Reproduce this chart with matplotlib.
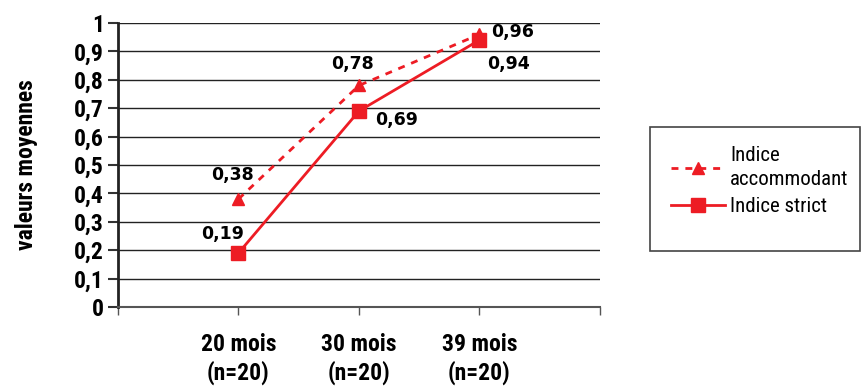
import matplotlib.pyplot as plt
from matplotlib.patches import Rectangle

# data
categories = ["20 mois\n(n=20)", "30 mois\n(n=20)", "39 mois\n(n=20)"]
accommodant = [0.38, 0.78, 0.96]
strict = [0.19, 0.69, 0.94]
yticks = [0, 0.1, 0.2, 0.3, 0.4, 0.5, 0.6, 0.7, 0.8, 0.9, 1]

plt.rcParams["font.family"] = ["Roboto Condensed", "PT Sans Narrow", "DejaVu Sans"]

red = "#ED1C24"

fig = plt.figure(figsize=(8.63, 3.86), dpi=100)
ax = fig.add_axes([0.1367, 0.2047, 0.6952 - 0.1367, 0.9404 - 0.2047])

x = list(range(len(categories)))
ax.plot(x, accommodant, color=red, lw=2.0, ls=(0, (2.5, 2.5)), marker="^",
        markersize=9, label="Indice\naccommodant", zorder=3)
ax.plot(x, strict, color=red, lw=2.0, marker="s", markersize=10,
        label="Indice strict", zorder=4)

fmt = lambda v: f"{v:.2f}".replace(".", ",")
acc_off = [(-6, 24), (-6, 21), (33, 2)]
str_off = [(-16, 19), (38, -9), (29, -24)]
for vals, offs in [(accommodant, acc_off), (strict, str_off)]:
    for xi, v, (dx, dy) in zip(x, vals, offs):
        ax.annotate(fmt(v), (xi, v), xytext=(dx * 0.72, dy * 0.72),
                    textcoords="offset points", ha="center", va="center",
                    fontsize=12.5, fontweight="bold", family="DejaVu Sans")

ax.set_xlim(-1, 3)
ax.set_ylim(0, 1)
ax.set_yticks(yticks)
ax.set_yticklabels([("%g" % t).replace(".", ",") for t in yticks],
                   fontsize=17, fontweight="bold")
ax.set_xticks(x)
ax.set_xticklabels(categories, fontsize=17, fontweight="bold", linespacing=1.2)
ax.set_xticks([-1, 3], minor=True)
ax.tick_params(axis="x", which="both", length=6, width=1, color="#555555", pad=13)
ax.tick_params(axis="y", length=7, width=1.5, color="#333333", pad=3)

ax.grid(axis="y", color="#222222", lw=1)
ax.set_axisbelow(True)
for s in ["top", "right"]:
    ax.spines[s].set_visible(False)
ax.spines["left"].set_linewidth(2)
ax.spines["left"].set_color("#222222")
ax.spines["bottom"].set_linewidth(1.5)
ax.spines["bottom"].set_color("#555555")

ax.set_ylabel("valeurs moyennes", fontsize=17, fontweight="bold", labelpad=26)

# legend box
fig.patches.append(Rectangle((650 / 863, 135 / 386), 210 / 863, 124 / 386,
                             transform=fig.transFigure, fill=False,
                             edgecolor="#444444", lw=1.2))
leg = fig.legend(loc="upper left", bbox_to_anchor=(652 / 863, 1 - 127 / 386),
                 frameon=False, fontsize=15, handlelength=2.6, handletextpad=0.25,
                 labelspacing=0.4)
for t in leg.get_texts():
    t.set_linespacing(1.35)

fig.savefig("out.png", dpi=100)
